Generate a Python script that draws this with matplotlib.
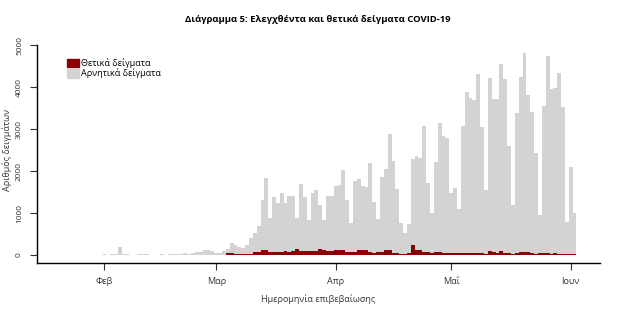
import matplotlib
matplotlib.use("Agg")
import matplotlib.pyplot as plt
import matplotlib.dates as mdates
import matplotlib.patches as mpatches
import numpy as np
import pandas as pd

plt.rcParams["font.family"] = ["Open Sans", "DejaVu Sans"]

# Daily samples, 26 Jan to 2 Jun 2020
start_date = "2020-01-26"
total = [
    # Jan 26-31
    5, 8, 5, 10, 12, 8,
    # Feb 1-29
    15, 10, 20, 30, 200, 20, 15, 10, 12, 15, 20, 15, 10, 12, 10, 15, 12, 15, 20,
    25, 30, 40, 35, 45, 60, 80, 110, 115, 100,
    # Mar 1-31
    40, 45, 100, 140, 285, 240, 190, 165, 240, 400, 520, 690, 1310, 1830, 880,
    1380, 1240, 1480, 1240, 1400, 1400, 880, 1690, 1380, 830, 1480, 1550, 1190,
    830, 1400, 1400,
    # Apr 1-30
    1640, 1670, 2020, 1310, 760, 1760, 1810, 1640, 1620, 2190, 1260, 860, 1860,
    2050, 2880, 2240, 1570, 760, 520, 740, 2280, 2360, 2310, 3070, 1710, 1000,
    2210, 3140, 2830, 2780,
    # May 1-31
    1470, 1590, 1100, 3080, 3880, 3730, 3680, 4300, 3050, 1550, 4210, 3720, 3720,
    4550, 4200, 2600, 1200, 3390, 4240, 4810, 3800, 3400, 2420, 950, 3550, 4740,
    3950, 3970, 4330, 3520, 790,
    # Jun 1-2
    2090, 1000,
]
positive = [
    0, 0, 0, 0, 0, 0,
    0, 0, 0, 0, 0, 0, 0, 0, 0, 0, 0, 0, 0, 0, 0, 0, 0, 0, 0,
    0, 0, 0, 0, 0, 0, 0, 0, 0, 0,
    0, 0, 2, 40, 55, 20, 25, 20, 25, 30, 60, 75, 120, 130, 80, 80, 75, 80, 85,
    80, 85, 140, 95, 90, 100, 95, 90, 140, 130, 90, 95,
    120, 115, 120, 80, 75, 80, 120, 115, 120, 60, 55, 60, 60, 120, 120, 45, 40,
    35, 30, 40, 235, 120, 110, 80, 75, 40, 80, 80, 40, 40,
    50, 45, 40, 50, 50, 45, 40, 55, 45, 30, 95, 60, 55, 95, 45, 40, 35, 55, 60,
    65, 70, 45, 35, 55, 55, 40, 35, 40, 25, 20, 20,
    20, 15,
]
month_ticks = ["2020-02-01", "2020-03-01", "2020-04-01", "2020-05-01", "2020-06-01"]
month_labels = ["Φεβ", "Μαρ", "Απρ", "Μαΐ", "Ιουν"]

dates = pd.date_range(start_date, periods=len(total), freq="D")
x = mdates.date2num(dates)
positive = np.array(positive)
negative = np.array(total) - positive

red = "#8B0000"
grey = "#D3D3D3"

fig = plt.figure(figsize=(6.17, 3.30), dpi=100)
ax = fig.add_axes([37/617, 67/330, 563/617, 226.4/330])

ax.bar(x, positive, width=1.0, color=red, linewidth=0)
ax.bar(x, negative, width=1.0, bottom=positive, color=grey, linewidth=0)

tick_x = mdates.date2num(pd.to_datetime(month_ticks))
ax.set_xticks(tick_x, month_labels)
ax.set_xlim(tick_x[0] - 17.5, tick_x[-1] + 7.6)
ax.set_ylim(-190, 5200)
ax.set_yticks([0, 1000, 2000, 3000, 4000, 5000])

for side in ["top", "right"]:
    ax.spines[side].set_visible(False)
ax.spines["left"].set_bounds(-190, 5000)
ax.spines["left"].set_linewidth(1.0)
ax.spines["bottom"].set_linewidth(1.0)

ax.tick_params(axis="x", length=5, pad=5, labelsize=6.5, colors="#333333")
ax.tick_params(axis="y", length=5, pad=5, labelsize=6, labelrotation=90,
               colors="#333333")
for lab in ax.get_yticklabels():
    lab.set_va("center")

ax.set_xlabel("Ημερομηνία επιβεβαίωσης", fontsize=6.5, color="#333333", labelpad=6)
ax.set_ylabel("Αριθμός δειγμάτων", fontsize=6.5, color="#333333")
ax.yaxis.set_label_coords(-0.044, 0.5)

handles = [mpatches.Patch(color=red, label="Θετικά δείγματα"),
           mpatches.Patch(color=grey, label="Αρνητικά δείγματα")]
ax.legend(handles=handles, loc="upper left", bbox_to_anchor=(0.053, 0.905),
          frameon=False, fontsize=6.5, handlelength=1.3, handleheight=1.1,
          handletextpad=0.3, labelspacing=0.05, borderpad=0, borderaxespad=0)

fig.text(0.515, 0.94, "Διάγραμμα 5: Ελεγχθέντα και θετικά δείγματα COVID-19",
         ha="center", va="center", fontsize=6.8, fontweight="bold")

fig.savefig("out.png", dpi=100)
